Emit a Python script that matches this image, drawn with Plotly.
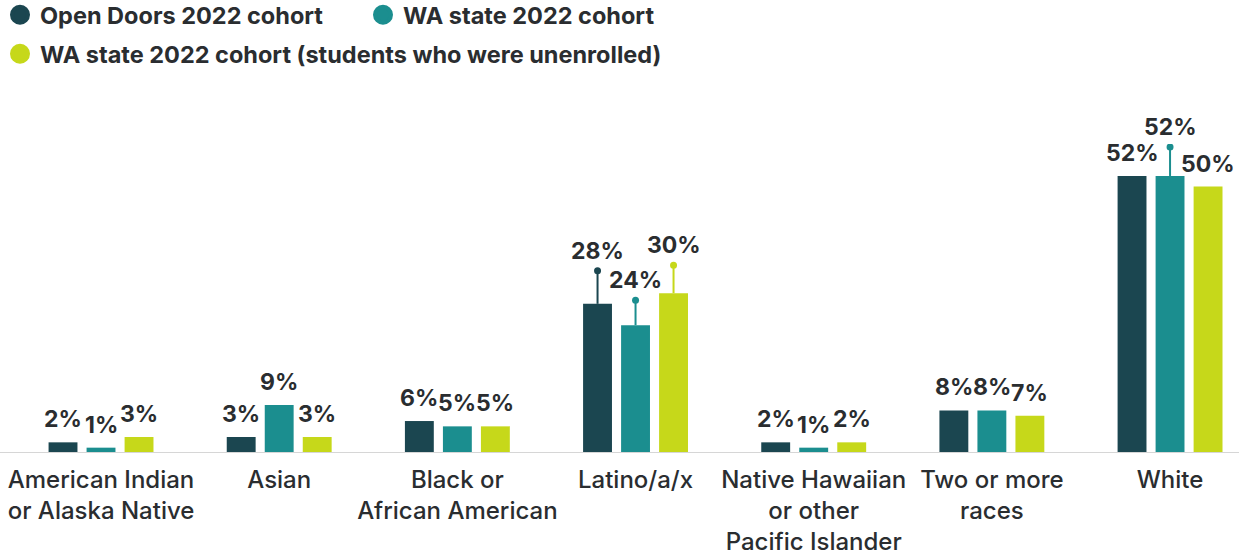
import plotly.graph_objects as go

# Race / ethnicity shares by cohort (percent)
categories = [
    "American Indian<br>or Alaska Native",
    "Asian",
    "Black or<br>African American",
    "Latino/a/x",
    "Native Hawaiian<br>or other<br>Pacific Islander",
    "Two or more<br>races",
    "White",
]
series_names = [
    "Open Doors 2022 cohort",
    "WA state 2022 cohort",
    "WA state 2022 cohort (students who were unenrolled)",
]
open_doors = [2, 3, 6, 28, 2, 8, 52]
wa_state = [1, 9, 5, 24, 1, 8, 52]
wa_unenrolled = [3, 3, 5, 30, 2, 7, 50]

colors = ["#1b4650", "#1b8e8f", "#c6d81a"]
text_color = "#2a2d30"
font_family = "Inter, Lato, 'Open Sans', Arial, sans-serif"

# labels lifted on a pin (category index, series index) -> lift in px
pins = {(3, 0): 33, (3, 1): 25, (3, 2): 28, (6, 1): 29}

series_values = [open_doors, wa_state, wa_unenrolled]
x_idx = list(range(len(categories)))
legend_ids = ["legend", "legend", "legend2"]

fig = go.Figure()
for name, vals, col in zip(series_names, series_values, colors):
    fig.add_trace(go.Bar(
        x=x_idx, y=vals, name=name, marker=dict(color=col, line=dict(width=0)),
        showlegend=False, hoverinfo="skip",
    ))
# round legend swatches
for name, col, lg in zip(series_names, colors, legend_ids):
    fig.add_trace(go.Scatter(
        x=[None], y=[None], mode="markers", name=name, legend=lg,
        marker=dict(color=col, size=18, symbol="circle", line=dict(color=col, width=4)),
    ))

slot_px = 38  # horizontal distance between neighbouring bars in a group
label_gap = 7
annotations = []
shapes = []
for s, vals in enumerate(series_values):
    dx = (s - 1) * slot_px
    for i, v in enumerate(vals):
        lift = pins.get((i, s))
        if lift:
            shapes.append(dict(
                type="line", xref="x", yref="y", xsizemode="pixel", ysizemode="pixel",
                xanchor=i, x0=dx, x1=dx, yanchor=v, y0=0, y1=lift,
                line=dict(color=colors[s], width=2),
            ))
            shapes.append(dict(
                type="circle", xref="x", yref="y", xsizemode="pixel", ysizemode="pixel",
                xanchor=i, x0=dx - 3.5, x1=dx + 3.5, yanchor=v, y0=lift - 3.5, y1=lift + 3.5,
                fillcolor=colors[s], line=dict(width=0),
            ))
            yshift = lift + 4
        else:
            yshift = label_gap
        annotations.append(dict(
            x=i, y=v, xref="x", yref="y", text=f"{v}%", showarrow=False,
            xshift=dx, yshift=yshift, yanchor="bottom", xanchor="center",
            font=dict(family=font_family, size=23, color=text_color, weight="bold"),
        ))

legend_font = dict(family=font_family, size=23.5, color=text_color, weight="bold")
fig.update_layout(
    width=1239, height=556,
    margin=dict(l=0, r=0, t=144, b=103),
    paper_bgcolor="white", plot_bgcolor="white",
    barmode="group", bargap=0.36, bargroupgap=0.24,
    font=dict(family=font_family, color=text_color),
    annotations=annotations, shapes=shapes,
    legend=dict(
        orientation="h", x=-0.012, y=1 - 15 / 556, xref="container", yref="container",
        xanchor="left", yanchor="middle", font=legend_font,
        entrywidth=318, entrywidthmode="pixels",
        itemclick=False, itemdoubleclick=False,
    ),
    legend2=dict(
        orientation="h", x=-0.012, y=1 - 54 / 556, xref="container", yref="container",
        xanchor="left", yanchor="middle", font=legend_font,
        itemclick=False, itemdoubleclick=False,
    ),
    xaxis=dict(
        range=[-0.567, 6.387], tickmode="array", tickvals=x_idx, ticktext=categories,
        showgrid=False, zeroline=False, showline=False, automargin=False,
        ticks="outside", ticklen=5, tickcolor="rgba(0,0,0,0)",
        tickfont=dict(family=font_family, size=24, color=text_color, weight=500),
        fixedrange=True,
    ),
    yaxis=dict(
        range=[0, 58], visible=False, fixedrange=True, automargin=False,
    ),
)
# baseline across the full width
fig.add_shape(type="line", xref="paper", yref="y", x0=0, x1=1, y0=0, y1=0,
              line=dict(color="#d6d6d6", width=2), layer="above")

fig.write_html("out.html")
